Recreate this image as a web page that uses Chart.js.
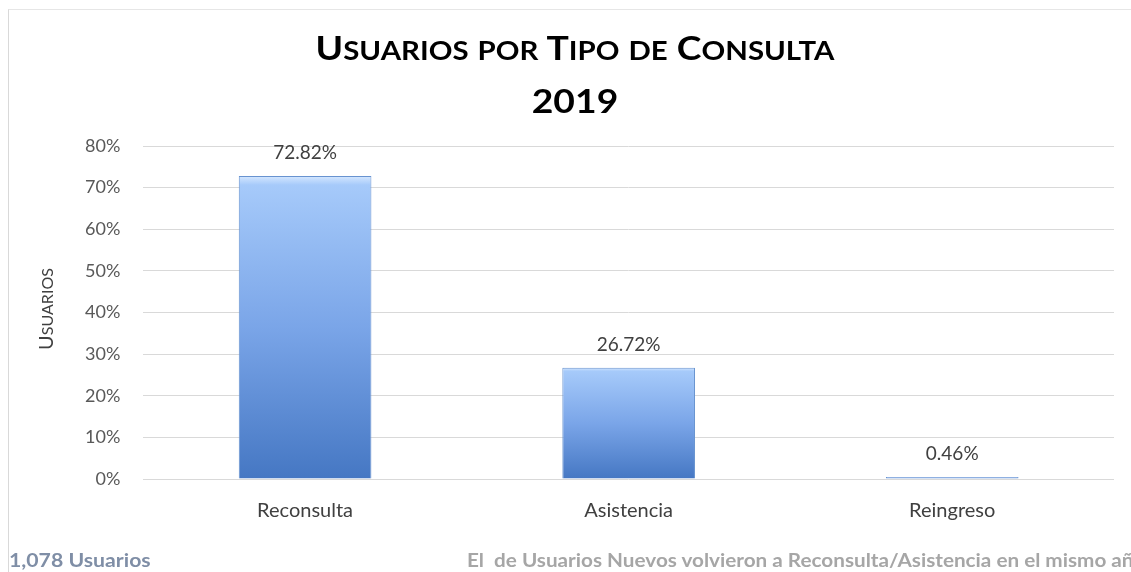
<!DOCTYPE html>
<html>
<head>
<meta charset="utf-8">
<script src="https://cdn.jsdelivr.net/npm/chart.js@4/dist/chart.umd.min.js"></script>
<style>
  html, body { margin: 0; padding: 0; background: #fff; }
  #wrap { position: relative; width: 1131px; height: 572px; overflow: hidden; }
  #frame { position: absolute; left: 8px; top: 9px; right: 0; bottom: 0; border-left: 1px solid #d9d9d9; border-top: 1px solid #e6e6e6; }
  #title { position: absolute; left: 0; top: 22px; width: 1150px; text-align: center; font-family: Lato, sans-serif; font-weight: bold; font-size: 33px; line-height: 50px; color: #000; transform: scaleX(1.13); transform-origin: 575px 0; }
  #title .sc { font-size: 26px; }
  #yTitle { position: absolute; left: 45px; top: 309px; transform: translate(-50%, -50%) rotate(-90deg); font-family: Lato, sans-serif; font-size: 20px; color: #404040; white-space: nowrap; }
  #yTitle .sc { font-size: 16px; }
  .foot { position: absolute; top: 549px; font-family: Lato, sans-serif; font-size: 18px; font-weight: bold; white-space: nowrap; transform-origin: left center; }
  #footLeft { left: 9px; color: #7f8ea6; transform: scaleX(1.18); }
  #footRight { left: 467px; color: #a6a6a6; transform: scaleX(1.15); }
</style>
</head>
<body>
<div id="wrap">
  <div id="frame"></div>
  <canvas id="chart" width="1131" height="572"></canvas>
  <div id="title"></div>
  <div id="yTitle"></div>
  <div class="foot" id="footLeft"></div>
  <div class="foot" id="footRight"></div>
</div>
<script>
const categories = [`Reconsulta`, `Asistencia`, `Reingreso`];
const percentages = [72.82, 26.72, 0.46];
const yTicks = [0, 10, 20, 30, 40, 50, 60, 70, 80];
const titleLines = [`Usuarios por Tipo de Consulta`, `2019`];
const yAxisTitle = `Usuarios`;
const footNotes = [`1,078 Usuarios`, `El\u00a0 de Usuarios Nuevos volvieron a Reconsulta/Asistencia en el mismo año.`];

// Excel-like small caps: capitals stay big, lower case letters become smaller capitals
function smallCaps(text) {
  return text.split(``).map(ch => {
    if (ch !== ch.toUpperCase()) return `<span class="sc">${ch.toUpperCase()}</span>`;
    return ch;
  }).join(``);
}

document.getElementById(`title`).innerHTML = titleLines.map(smallCaps).join(`<br>`);
document.getElementById(`yTitle`).innerHTML = smallCaps(yAxisTitle);
document.getElementById(`footLeft`).textContent = footNotes[0];
document.getElementById(`footRight`).textContent = footNotes[1];

// gradient per bar, from its top down to the zero line
function barGradient(context) {
  const chart = context.chart;
  if (!chart.chartArea || context.dataIndex === undefined) return `#7fa9e6`;
  const y = chart.scales.y;
  const top = y.getPixelForValue(context.raw);
  const bottom = y.getPixelForValue(0);
  const g = chart.ctx.createLinearGradient(0, top, 0, Math.max(bottom, top + 1));
  g.addColorStop(0, `#d6e8ff`);
  g.addColorStop(0.03, `#a6cafa`);
  g.addColorStop(0.5, `#7aa5e8`);
  g.addColorStop(1, `#4577c3`);
  return g;
}

const valueLabels = {
  id: `valueLabels`,
  afterDatasetsDraw(chart) {
    const ctx = chart.ctx;
    const meta = chart.getDatasetMeta(0);
    ctx.save();
    ctx.font = `19px Lato, sans-serif`;
    ctx.fillStyle = `#404040`;
    ctx.textAlign = `center`;
    ctx.textBaseline = `middle`;
    meta.data.forEach((bar, i) => {
      ctx.fillText(percentages[i].toFixed(2) + `%`, bar.x, bar.y - 23);
    });
    ctx.restore();
  }
};

new Chart(`chart`, {
  type: `bar`,
  data: {
    labels: categories,
    datasets: [{
      data: percentages,
      backgroundColor: barGradient,
      borderColor: `#6893d0`,
      borderWidth: 1,
      barPercentage: 0.41,
      categoryPercentage: 1
    }]
  },
  options: {
    responsive: false,
    animation: false,
    layout: { padding: { left: 62, right: 17, top: 146, bottom: 37 } },
    plugins: {
      legend: { display: false },
      tooltip: { enabled: false },
      title: { display: false }
    },
    scales: {
      x: {
        grid: { display: false },
        border: { display: false },
        ticks: { color: `#404040`, font: { family: `Lato, sans-serif`, size: 20 }, padding: 12 }
      },
      y: {
        min: 0,
        max: 80,
        afterBuildTicks(axis) { axis.ticks = yTicks.map(v => ({ value: v })); },
        grid: { color: `#d9d9d9`, drawTicks: false },
        border: { display: false },
        ticks: {
          color: `#595959`,
          font: { family: `Lato, sans-serif`, size: 18 },
          padding: 23,
          callback: v => v + `%`
        }
      }
    }
  },
  plugins: [valueLabels]
});
</script>
</body>
</html>
